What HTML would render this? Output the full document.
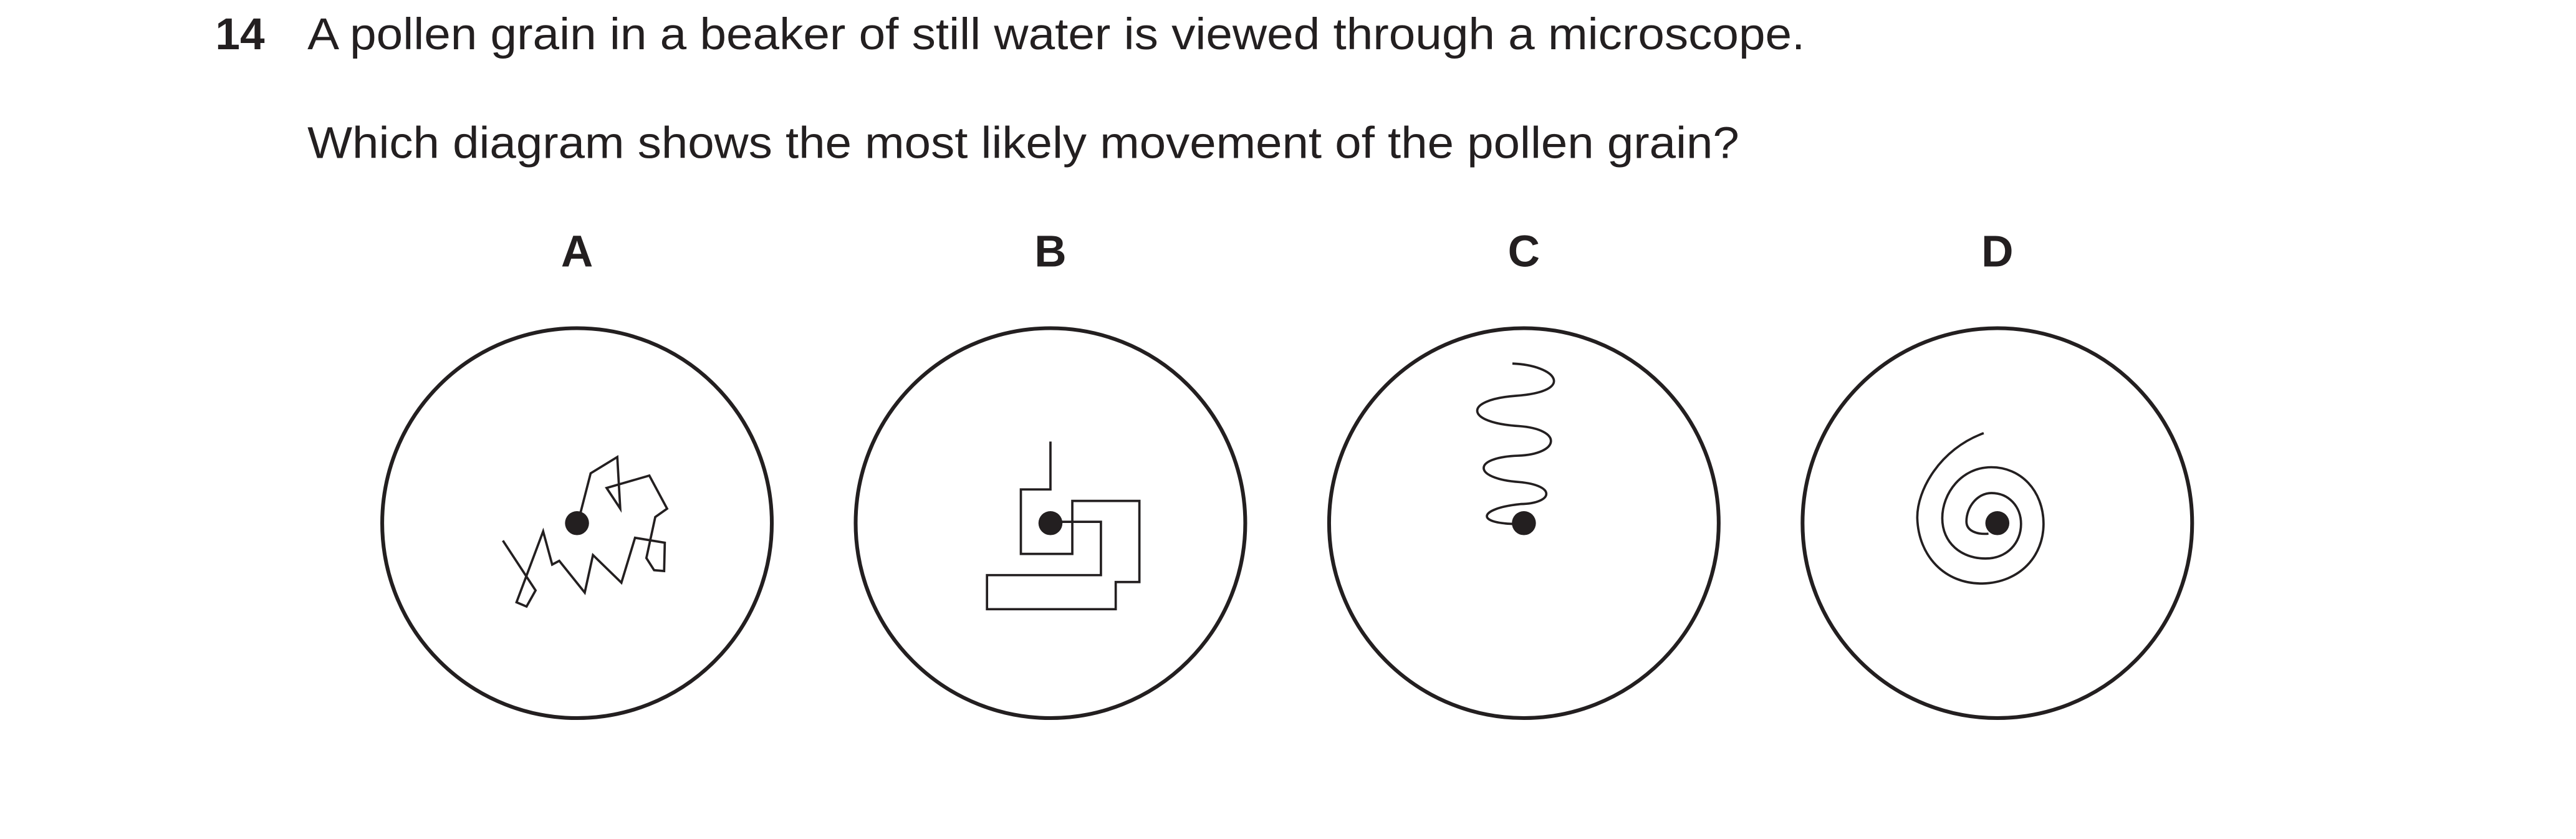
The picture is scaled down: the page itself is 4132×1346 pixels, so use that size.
<!DOCTYPE html>
<html><head><meta charset="utf-8"><style>
html,body{margin:0;padding:0;background:#fff;}
svg{display:block;}
text{font-family:"Liberation Sans",Arial,sans-serif;fill:#231f20;}
</style></head><body>
<svg width="4132" height="1346" viewBox="0 0 1567 510" preserveAspectRatio="none" xmlns="http://www.w3.org/2000/svg">
<text x="131" y="30" font-size="27" font-weight="bold">14</text>
<text x="187" y="30" font-size="27" textLength="911" lengthAdjust="spacingAndGlyphs">A pollen grain in a beaker of still water is viewed through a microscope.</text>
<text x="187" y="96" font-size="27" textLength="871" lengthAdjust="spacingAndGlyphs">Which diagram shows the most likely movement of the pollen grain?</text>

<g fill="none" stroke="#231f20" stroke-linejoin="miter">
<g transform="translate(351,318)">
<text x="0" y="-156" font-size="27" font-weight="bold" text-anchor="middle" stroke="none">A</text>
<circle r="118.5" stroke-width="2.3" fill="#fff"/>
<polyline stroke-width="1.4" points="-45.1,10.6 -25.2,40.9 -30.7,50.7 -36.8,48.1 -20.6,5 -15.1,25.2 -10.8,22.9 4.7,42.2 9.7,19.4 27,36.2 35.3,8.9 53.4,11.9 53,29.1 46.9,28.6 42.2,21.2 47.6,-3.7 54.8,-8.8 44,-28.9 18,-21.4 26.3,-8.8 24.5,-40.2 8.3,-30.3 0.5,0"/>
<circle r="7.3" fill="#231f20" stroke="none"/>
</g>
<g transform="translate(639,318)">
<text x="0" y="-156" font-size="27" font-weight="bold" text-anchor="middle" stroke="none">B</text>
<circle r="118.5" stroke-width="2.3" fill="#fff"/>
<polyline stroke-width="1.4" points="0,-49.6 0,-20.5 -18,-20.5 -18,18.7 13.3,18.7 13.3,-13.5 54.1,-13.5 54.1,35.8 39.7,35.8 39.7,52.3 -38.6,52.3 -38.6,31.6 30.7,31.6 30.7,-0.8 0,-0.8"/>
<circle r="7.3" fill="#231f20" stroke="none"/>
</g>
<g transform="translate(927,318)">
<text x="0" y="-156" font-size="27" font-weight="bold" text-anchor="middle" stroke="none">C</text>
<circle r="118.5" stroke-width="2.3" fill="#fff"/>
<path stroke-width="1.4" d="M -7,-97 C 20,-96 32,-80 -5,-77.4 C -37,-75 -36,-61 -3,-59 C 24,-57 22,-42 -3.6,-41 C -32,-40 -31,-27 -3,-25 C 20,-23 18,-12 -2,-11.6 C -28,-9 -31,1 -1,0.5"/>
<circle r="7.3" fill="#231f20" stroke="none"/>
</g>
<g transform="translate(1215,318)">
<text x="0" y="-156" font-size="27" font-weight="bold" text-anchor="middle" stroke="none">D</text>
<circle r="118.5" stroke-width="2.3" fill="#fff"/>
<path stroke-width="1.4" d="M -8.3,-54.7 C -35,-45 -49,-20 -48.7,-3 C -48,20 -32,37 -9,36.7 C 14,36 28,20 28.1,0.5 C 28,-20 14,-34 -3.6,-34 C -22,-34 -33.5,-18 -33.5,-3 C -33.5,12 -22,21.5 -7.2,21.5 C 6,21.5 14.4,12 14.4,0.5 C 14.4,-10 7,-18.3 -3.6,-18.3 C -12,-18.3 -18.8,-10 -18.8,-1 C -18.8,5 -12,7 -5.4,6.4"/>
<circle r="7.3" fill="#231f20" stroke="none"/>
</g>
</g>
</svg>
</body></html>
